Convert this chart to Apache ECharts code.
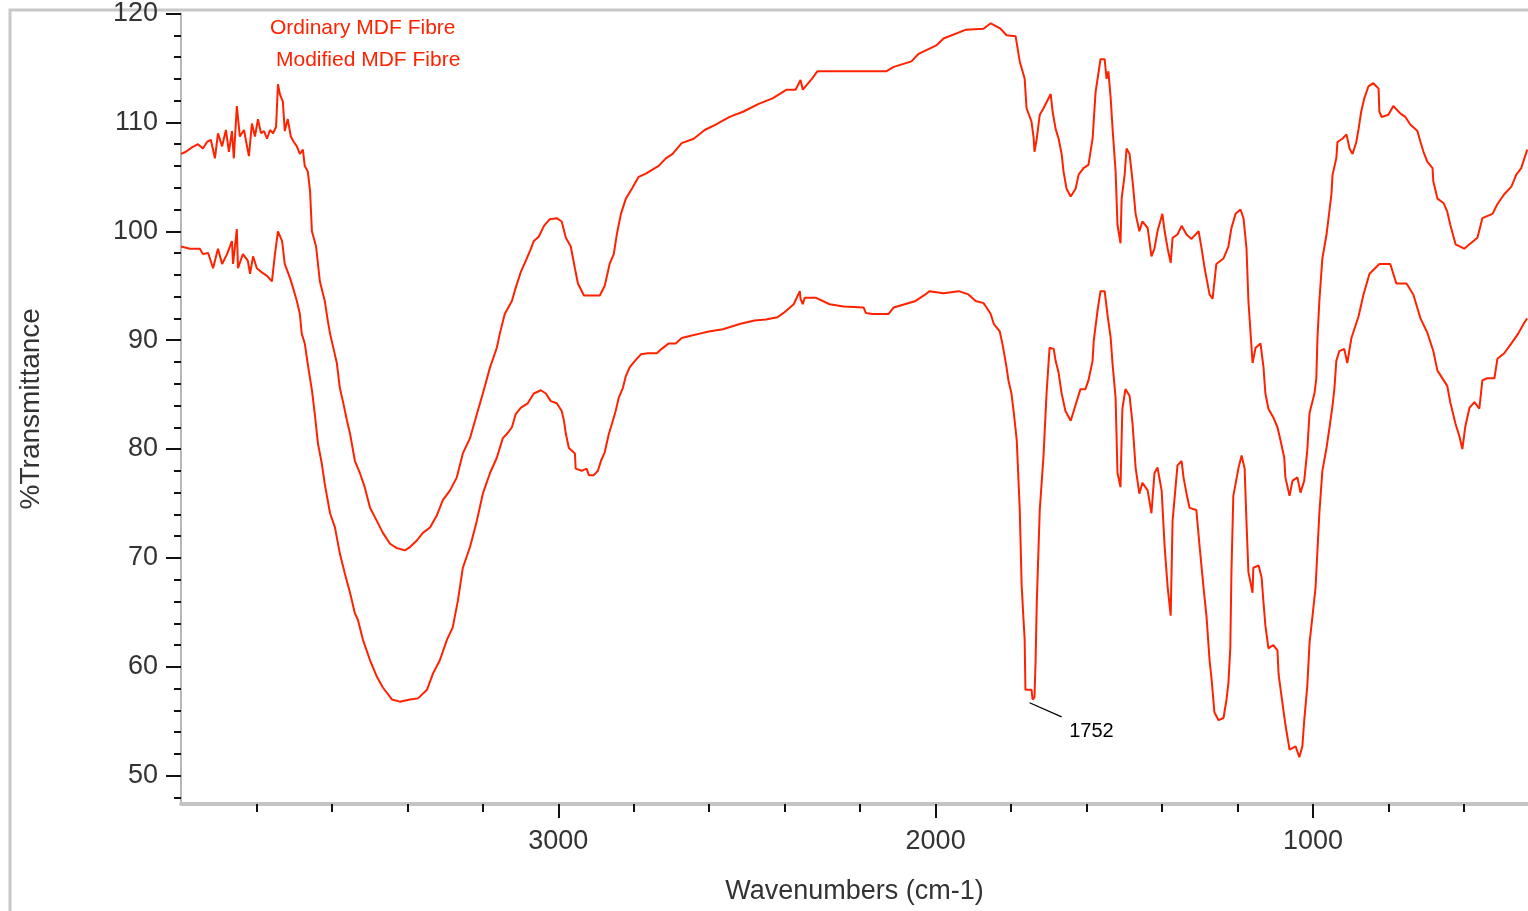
<!DOCTYPE html>
<html>
<head>
<meta charset="utf-8">
<title>FTIR - MDF Fibre</title>
<script src="https://cdn.jsdelivr.net/npm/echarts@6/dist/echarts.min.js"></script>
<style>
  html, body { margin: 0; padding: 0; background: #fff; }
  #chart { width: 1528px; height: 911px; }
</style>
</head>
<body>
<div id="chart"></div>
<script>
// wavenumber (cm-1) / %T readings, upper trace
const ordinaryWn = [4000, 3987, 3971, 3955, 3942, 3931, 3921, 3910, 3902, 3891, 3881, 3873, 3865, 3860, 3852, 3844, 3833, 3825, 3820, 3812, 3804, 3796, 3788, 3780, 3772, 3764, 3756, 3748, 3743, 3738, 3730, 3725, 3717, 3709, 3701, 3693, 3685, 3677, 3672, 3664, 3658, 3653, 3642, 3632, 3619, 3611, 3605, 3587, 3579, 3571, 3560, 3552, 3539, 3526, 3513, 3499, 3481, 3465, 3446, 3428, 3407, 3393, 3375, 3359, 3340, 3322, 3306, 3287, 3269, 3253, 3234, 3216, 3200, 3181, 3163, 3155, 3142, 3123, 3113, 3099, 3086, 3075, 3065, 3052, 3038, 3023, 3004, 2991, 2980, 2967, 2956, 2948, 2932, 2911, 2890, 2877, 2864, 2853, 2845, 2834, 2821, 2805, 2787, 2768, 2734, 2715, 2697, 2673, 2641, 2612, 2583, 2546, 2509, 2469, 2432, 2395, 2371, 2358, 2352, 2328, 2313, 2130, 2111, 2064, 2045, 1997, 1979, 1921, 1873, 1854, 1828, 1812, 1788, 1777, 1764, 1759, 1746, 1740, 1738, 1732, 1724, 1714, 1695, 1690, 1682, 1674, 1666, 1661, 1653, 1642, 1629, 1621, 1608, 1595, 1584, 1576, 1563, 1552, 1547, 1542, 1536, 1531, 1523, 1518, 1510, 1507, 1499, 1494, 1486, 1478, 1470, 1460, 1452, 1438, 1428, 1420, 1412, 1399, 1393, 1385, 1377, 1372, 1359, 1348, 1335, 1322, 1303, 1295, 1287, 1274, 1266, 1256, 1237, 1224, 1216, 1205, 1192, 1184, 1176, 1171, 1160, 1152, 1139, 1131, 1126, 1118, 1105, 1094, 1086, 1076, 1073, 1062, 1054, 1041, 1033, 1023, 1015, 1009, 996, 991, 988, 983, 975, 964, 951, 948, 938, 935, 922, 911, 903, 895, 885, 879, 872, 864, 853, 840, 826, 824, 818, 800, 787, 768, 755, 742, 723, 715, 707, 697, 683, 681, 670, 654, 644, 636, 622, 599, 585, 564, 551, 524, 511, 493, 474, 461, 448, 432];
const ordinaryT = [107.1, 107.3, 107.7, 108.0, 107.6, 108.2, 108.4, 106.7, 109.0, 107.8, 109.3, 107.3, 109.2, 106.7, 111.5, 108.7, 109.3, 107.8, 106.9, 109.9, 108.7, 110.3, 109.0, 109.2, 108.5, 109.3, 109.0, 109.6, 113.5, 112.6, 111.9, 109.2, 110.3, 108.7, 108.2, 107.8, 107.1, 107.5, 106.0, 105.5, 103.7, 100.0, 98.6, 95.4, 93.6, 91.8, 90.6, 87.9, 85.6, 84.4, 82.6, 81.4, 78.9, 77.8, 76.5, 74.6, 73.4, 72.3, 71.3, 70.9, 70.7, 71.0, 71.6, 72.3, 72.8, 73.9, 75.3, 76.2, 77.4, 79.6, 81.0, 83.2, 85.1, 87.5, 89.3, 90.6, 92.4, 93.6, 94.8, 96.3, 97.3, 98.2, 99.1, 99.5, 100.5, 101.1, 101.2, 100.9, 99.4, 98.6, 96.6, 95.2, 94.1, 94.1, 94.1, 95.0, 97.0, 97.9, 99.7, 101.6, 103.0, 103.9, 105.0, 105.3, 106.0, 106.7, 107.1, 108.1, 108.5, 109.3, 109.8, 110.5, 111.0, 111.7, 112.2, 113.0, 113.0, 113.9, 113.0, 114.0, 114.7, 114.7, 115.1, 115.6, 116.3, 117.1, 117.7, 118.5, 118.6, 119.1, 118.6, 118.0, 117.9, 115.6, 114.0, 111.3, 110.1, 108.5, 107.3, 108.5, 110.7, 111.3, 112.6, 111.0, 109.4, 108.5, 107.1, 105.5, 103.9, 103.2, 103.9, 105.2, 105.8, 106.1, 108.5, 112.8, 115.8, 115.8, 114.0, 114.7, 112.2, 109.4, 105.5, 100.6, 98.9, 103.0, 105.2, 107.6, 107.1, 104.6, 101.6, 100.0, 100.9, 100.3, 97.7, 98.4, 100.0, 101.6, 100.0, 98.4, 97.1, 99.4, 99.7, 100.5, 99.7, 99.3, 100.0, 98.4, 96.6, 94.2, 93.8, 97.0, 97.5, 98.6, 100.3, 101.6, 102.0, 101.2, 98.4, 93.6, 87.9, 89.3, 89.7, 87.5, 85.1, 83.7, 82.9, 82.0, 80.8, 79.2, 77.4, 75.7, 77.1, 77.4, 76.0, 77.1, 79.9, 83.3, 85.1, 86.5, 90.2, 93.6, 97.5, 99.7, 103.4, 105.2, 106.7, 108.2, 108.5, 108.9, 107.6, 107.1, 108.2, 109.4, 111.0, 112.2, 113.3, 113.6, 113.1, 111.0, 110.5, 110.7, 111.5, 110.8, 110.5, 109.8, 109.2, 108.2, 107.3, 106.4, 105.8, 104.6, 103.0, 102.6, 101.8, 100.6, 98.8, 98.4, 98.8, 99.4, 101.2, 101.6, 102.5, 103.4, 104.1, 105.2, 105.8, 107.5];

// lower trace
const modifiedWn = [4000, 3976, 3950, 3942, 3928, 3915, 3902, 3891, 3878, 3865, 3862, 3852, 3849, 3836, 3823, 3817, 3809, 3799, 3785, 3772, 3759, 3751, 3743, 3732, 3725, 3711, 3703, 3693, 3685, 3680, 3672, 3664, 3653, 3645, 3637, 3627, 3619, 3605, 3592, 3579, 3566, 3552, 3539, 3531, 3518, 3499, 3481, 3465, 3441, 3420, 3393, 3372, 3348, 3332, 3314, 3295, 3280, 3266, 3253, 3234, 3216, 3200, 3181, 3163, 3147, 3136, 3123, 3113, 3099, 3081, 3065, 3046, 3033, 3020, 3004, 2991, 2985, 2980, 2972, 2956, 2954, 2938, 2925, 2919, 2906, 2895, 2887, 2877, 2866, 2858, 2848, 2840, 2829, 2821, 2811, 2797, 2781, 2763, 2739, 2726, 2707, 2689, 2673, 2649, 2625, 2601, 2564, 2517, 2480, 2450, 2419, 2403, 2389, 2376, 2360, 2358, 2352, 2347, 2318, 2281, 2244, 2191, 2185, 2167, 2125, 2111, 2082, 2053, 2027, 2016, 1979, 1939, 1913, 1894, 1873, 1865, 1854, 1846, 1830, 1822, 1812, 1807, 1799, 1793, 1785, 1777, 1772, 1767, 1764, 1762, 1746, 1743, 1738, 1735, 1732, 1724, 1714, 1706, 1698, 1687, 1682, 1674, 1666, 1656, 1642, 1634, 1626, 1616, 1603, 1595, 1584, 1581, 1571, 1563, 1552, 1544, 1536, 1531, 1523, 1518, 1510, 1507, 1505, 1497, 1486, 1478, 1470, 1460, 1452, 1438, 1428, 1420, 1412, 1401, 1393, 1385, 1377, 1372, 1367, 1359, 1348, 1343, 1335, 1327, 1309, 1301, 1290, 1282, 1274, 1269, 1261, 1250, 1237, 1229, 1224, 1219, 1216, 1211, 1197, 1189, 1181, 1176, 1171, 1160, 1158, 1144, 1136, 1131, 1126, 1118, 1105, 1094, 1091, 1081, 1073, 1062, 1046, 1036, 1028, 1023, 1015, 1009, 1001, 993, 983, 975, 964, 956, 948, 943, 938, 930, 917, 909, 898, 879, 866, 850, 824, 795, 779, 752, 734, 715, 697, 681, 670, 644, 636, 622, 612, 604, 596, 585, 572, 559, 551, 538, 519, 511, 493, 474, 456, 440, 432];
const modifiedT = [98.6, 98.4, 98.4, 97.9, 98.0, 96.6, 98.4, 97.0, 97.9, 99.1, 97.0, 100.2, 96.6, 97.9, 97.3, 96.1, 97.7, 96.6, 96.2, 95.9, 95.4, 97.9, 100.0, 99.1, 97.0, 95.7, 94.8, 93.6, 92.4, 90.6, 89.7, 87.8, 85.4, 83.1, 80.5, 78.7, 76.8, 74.1, 72.8, 70.4, 68.6, 66.8, 64.9, 64.3, 62.5, 60.6, 59.1, 58.1, 57.0, 56.8, 57.0, 57.1, 57.9, 59.4, 60.6, 62.5, 63.6, 66.1, 69.1, 71.0, 73.4, 75.9, 77.8, 79.2, 81.0, 81.4, 82.0, 83.2, 83.8, 84.2, 85.1, 85.4, 85.1, 84.4, 84.2, 83.5, 82.6, 81.4, 80.1, 79.6, 78.2, 78.0, 78.2, 77.6, 77.6, 78.0, 78.9, 79.7, 81.4, 82.3, 83.5, 84.7, 85.6, 86.7, 87.5, 88.1, 88.7, 88.8, 88.8, 89.2, 89.7, 89.7, 90.2, 90.4, 90.6, 90.8, 91.0, 91.5, 91.8, 91.9, 92.1, 92.5, 92.9, 93.3, 94.5, 93.8, 93.3, 93.9, 93.9, 93.3, 93.1, 93.0, 92.5, 92.4, 92.4, 93.0, 93.3, 93.6, 94.2, 94.5, 94.3, 94.5, 94.2, 93.6, 93.4, 93.0, 92.4, 91.5, 90.8, 89.5, 87.5, 86.3, 85.1, 83.4, 80.8, 74.4, 67.5, 64.3, 62.5, 57.9, 57.9, 57.0, 57.2, 60.6, 65.8, 74.4, 79.4, 85.1, 89.3, 89.2, 88.1, 87.0, 85.1, 83.5, 82.6, 83.5, 84.4, 85.5, 85.5, 86.3, 88.1, 89.9, 92.7, 94.5, 94.5, 92.2, 90.2, 87.8, 84.7, 77.8, 76.5, 81.0, 83.7, 85.5, 84.9, 82.3, 78.3, 75.9, 76.9, 76.2, 74.1, 77.8, 78.3, 76.2, 71.0, 67.3, 64.7, 73.4, 73.4, 78.5, 78.9, 77.4, 75.9, 74.6, 74.4, 71.3, 67.3, 64.6, 60.6, 59.0, 55.8, 55.1, 55.3, 57.0, 58.5, 61.7, 68.7, 75.7, 78.3, 79.4, 78.2, 73.2, 68.7, 66.8, 69.1, 69.3, 68.2, 65.9, 63.8, 61.7, 62.0, 61.5, 59.3, 56.7, 54.7, 52.4, 52.7, 51.7, 52.7, 55.1, 58.2, 62.2, 64.7, 67.3, 74.1, 78.0, 80.1, 82.0, 84.0, 85.6, 88.1, 89.0, 89.2, 87.9, 90.2, 92.2, 94.2, 96.1, 97.0, 97.0, 95.2, 95.2, 94.2, 92.0, 90.7, 89.0, 87.2, 85.8, 84.3, 82.3, 81.2, 80.0, 82.1, 83.8, 84.3, 83.7, 86.3, 86.5, 86.5, 88.3, 88.8, 89.7, 90.6, 91.6, 92.0];

const xMajorTicks = [1000, 2000, 3000];
const xMinorTicks = [600, 800, 1200, 1400, 1600, 1800, 2200, 2400, 2600, 2800, 3200, 3400, 3600, 3800];
const yMajorTicks = [50, 60, 70, 80, 90, 100, 110, 120];
const yMinorTicks = [48, 52, 54, 56, 58, 62, 64, 66, 68, 72, 74, 76, 78, 82, 84, 86, 88, 92, 94, 96, 98, 102, 104, 106, 108, 112, 114, 116, 118];

const seriesNames = ['Ordinary MDF Fibre', 'Modified MDF Fibre'];
const peakLabel = { text: '1752', from: [1751, 56.7], to: [1666, 55.4] };

const RED = '#ff2200';
const FONT = '"Liberation Sans", Arial, sans-serif';

function zip(xs, ys) {
  return xs.map((x, i) => [x, ys[i]]);
}

const xRange = { min: 430, max: 4000 };
const yRange = { min: 47.4, max: 120 };

const chart = echarts.init(document.getElementById('chart'));

chart.setOption({
  animation: false,
  backgroundColor: '#fff',
  textStyle: { fontFamily: FONT },
  grid: { left: 181, right: 0, top: 12, bottom: 107 },
  xAxis: [
    {
      type: 'value',
      inverse: true,
      min: xRange.min,
      max: xRange.max,
      name: 'Wavenumbers (cm-1)',
      nameLocation: 'middle',
      nameGap: 74,
      nameTextStyle: { fontSize: 27, color: '#333', fontFamily: FONT },
      axisLine: { lineStyle: { color: '#c4c4c4', width: 4 } },
      axisTick: { customValues: xMajorTicks, length: 14, lineStyle: { color: '#111', width: 2 } },
      axisLabel: {
        customValues: xMajorTicks,
        margin: 24,
        fontSize: 27,
        color: '#333',
        fontFamily: FONT,
        formatter: (v) => String(v)
      },
      splitLine: { show: false }
    },
    {
      // minor ticks only
      type: 'value',
      inverse: true,
      min: xRange.min,
      max: xRange.max,
      position: 'bottom',
      axisLine: { show: false },
      axisTick: { customValues: xMinorTicks, length: 8, lineStyle: { color: '#111', width: 2 } },
      axisLabel: { show: false },
      splitLine: { show: false }
    }
  ],
  yAxis: [
    {
      type: 'value',
      min: yRange.min,
      max: yRange.max,
      name: '%Transmittance',
      nameLocation: 'middle',
      nameGap: 136,
      nameTextStyle: { fontSize: 28, color: '#333', fontFamily: FONT },
      axisLine: { show: true, lineStyle: { color: '#b8b8b8', width: 2 } },
      axisTick: { show: true, customValues: yMajorTicks, length: 15, lineStyle: { color: '#111', width: 2 } },
      axisLabel: {
        customValues: yMajorTicks,
        margin: 23,
        fontSize: 27,
        color: '#333',
        fontFamily: FONT,
        formatter: (v) => String(v)
      },
      splitLine: { show: false }
    },
    {
      type: 'value',
      min: yRange.min,
      max: yRange.max,
      position: 'left',
      axisLine: { show: false },
      axisTick: { show: true, customValues: yMinorTicks, length: 7, lineStyle: { color: '#111', width: 2 } },
      axisLabel: { show: false },
      splitLine: { show: false }
    }
  ],
  graphic: [
    {
      type: 'rect',
      z: -1,
      shape: { x: 10, y: 10, width: 1600, height: 1000 },
      style: { fill: 'none', stroke: '#c8c8c8', lineWidth: 3 }
    },
    {
      type: 'text',
      left: 270,
      top: 18,
      style: { text: seriesNames[0], fill: RED, font: '21px ' + FONT }
    },
    {
      type: 'text',
      left: 276,
      top: 50,
      style: { text: seriesNames[1], fill: RED, font: '21px ' + FONT }
    }
  ],
  series: [
    {
      name: seriesNames[0],
      type: 'line',
      data: zip(ordinaryWn, ordinaryT),
      showSymbol: false,
      lineStyle: { color: RED, width: 2 },
      itemStyle: { color: RED }
    },
    {
      name: seriesNames[1],
      type: 'line',
      data: zip(modifiedWn, modifiedT),
      showSymbol: false,
      lineStyle: { color: RED, width: 2 },
      itemStyle: { color: RED },
      markLine: {
        silent: true,
        symbol: ['none', 'none'],
        label: { show: false },
        lineStyle: { color: '#000', width: 1.2, type: 'solid' },
        data: [[{ coord: peakLabel.from }, { coord: peakLabel.to }]]
      },
      markPoint: {
        silent: true,
        symbol: 'circle',
        symbolSize: 1,
        itemStyle: { color: 'rgba(0,0,0,0)' },
        label: {
          show: true,
          formatter: peakLabel.text,
          position: 'right',
          offset: [2, 15],
          color: '#000',
          fontSize: 20,
          fontFamily: FONT
        },
        data: [{ coord: peakLabel.to }]
      }
    }
  ]
});
</script>
</body>
</html>
